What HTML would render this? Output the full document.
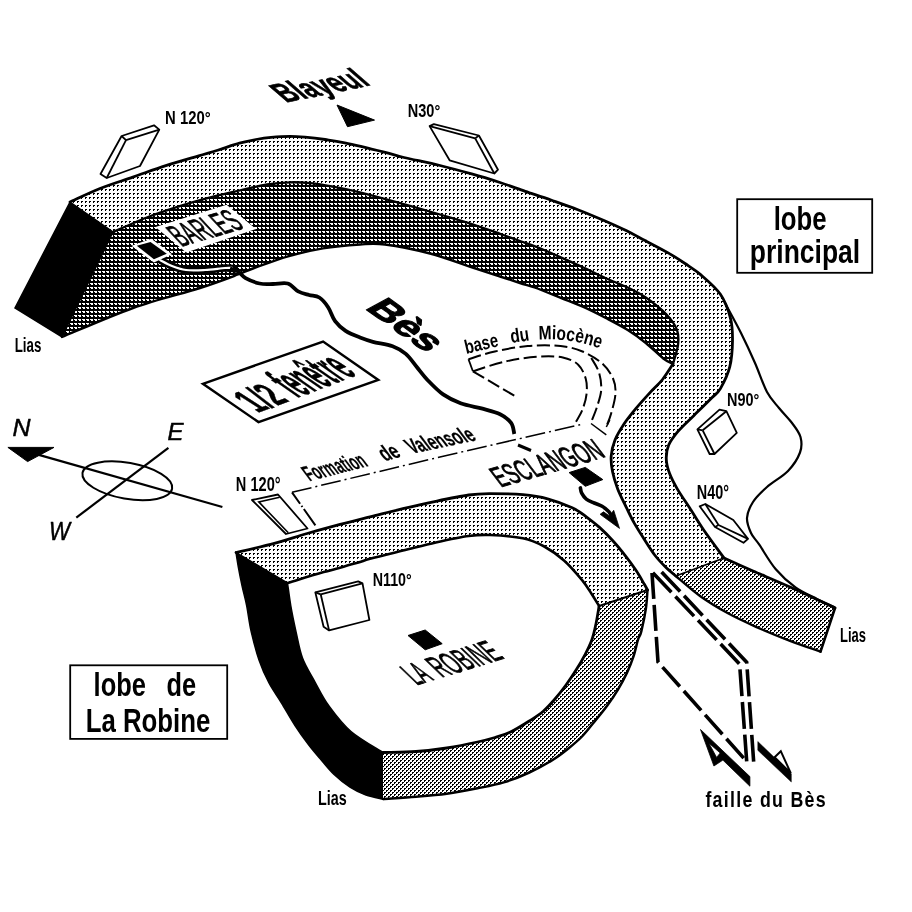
<!DOCTYPE html>
<html><head><meta charset="utf-8"><title>Bloc diagramme</title>
<style>
html,body{margin:0;padding:0;background:#fff;}
body{width:912px;height:912px;overflow:hidden;font-family:"Liberation Sans",sans-serif;}
svg{display:block;will-change:transform;}
text{font-family:"Liberation Sans",sans-serif;fill:#000;white-space:pre;}
</style></head><body>
<svg width="912" height="912" viewBox="0 0 912 912">
<defs>
<pattern id="pl" width="4" height="4" patternUnits="userSpaceOnUse"><rect width="4" height="4" fill="#fff"/><path d="M1,1h2v1h-1v1h-1z" fill="#000"/></pattern>
<pattern id="pd" width="4" height="4" patternUnits="userSpaceOnUse"><rect width="4" height="4" fill="#000"/><path d="M2,3h2v1h-2zM0,3h1v1h-1zM3,0h1v1h-1zM0,0h1v1h-1z" fill="#fff"/></pattern>
<pattern id="ph" width="4" height="4" patternUnits="userSpaceOnUse"><rect width="4" height="4" fill="#fff"/><path d="M0,0h2v1h-1v1h-1zM2,2h2v1h-1v1h-1z" fill="#000"/></pattern>
</defs>
<rect width="912" height="912" fill="#fff"/>
<path d="M70.0,202.0 C75.0,199.8 89.5,192.7 100.0,188.5 C110.5,184.3 121.9,180.9 132.9,177.1 C143.9,173.3 154.8,169.1 165.8,165.6 C176.8,162.1 189.9,158.4 198.7,155.8 C207.5,153.2 211.6,152.1 218.4,150.0 C225.2,147.9 233.2,144.9 239.5,143.2 C245.8,141.4 250.8,140.5 256.0,139.5 C261.2,138.5 265.3,137.8 271.0,137.3 C276.7,136.8 284.3,136.3 290.0,136.3 C295.7,136.3 299.2,136.6 305.0,137.1 C310.8,137.6 318.4,138.5 325.0,139.5 C331.6,140.5 334.8,140.8 344.7,142.9 C354.6,145.0 374.3,149.7 384.2,152.1 C394.1,154.5 394.7,155.3 404.0,157.5 C413.3,159.7 428.6,162.7 440.0,165.5 C451.4,168.3 462.6,171.4 472.6,174.2 C482.6,177.0 491.2,179.7 500.0,182.5 C508.8,185.3 516.8,188.4 525.3,191.3 C533.8,194.2 542.2,196.9 551.0,200.0 C559.8,203.1 569.1,206.3 577.9,209.7 C586.7,213.1 596.3,217.2 604.0,220.5 C611.7,223.8 617.1,226.3 623.9,229.6 C630.7,232.9 637.7,236.7 645.0,240.5 C652.3,244.3 661.0,248.8 667.7,252.6 C674.4,256.4 679.5,259.8 685.0,263.5 C690.5,267.2 694.7,269.5 700.6,274.6 C706.5,279.7 715.4,287.0 720.4,294.3 C725.4,301.6 728.5,310.7 730.5,318.4 C732.5,326.1 732.6,332.3 732.5,340.4 C732.4,348.4 731.8,358.7 729.8,366.7 C727.8,374.7 723.4,383.4 720.4,388.6 C717.4,393.8 716.0,393.5 711.6,398.0 C707.2,402.5 699.6,409.9 694.0,415.4 C688.4,420.9 682.4,426.2 678.2,431.2 C674.0,436.2 670.6,440.6 668.6,445.3 C666.6,450.0 666.1,454.6 666.3,459.3 C666.4,464.0 667.6,468.3 669.5,473.3 C671.4,478.3 674.0,483.3 677.4,489.1 C680.8,494.9 685.5,501.5 689.9,508.3 C694.3,515.1 698.0,521.7 703.7,530.0 C709.4,538.3 720.6,553.3 724.0,558.0 L675.8,576.0 C674.0,574.5 668.8,570.3 665.3,566.8 C661.8,563.3 658.2,559.6 654.7,555.0 C651.2,550.4 647.7,544.7 644.2,539.2 C640.7,533.7 636.8,527.6 633.7,522.1 C630.6,516.6 628.5,511.8 625.8,506.3 C623.1,500.8 619.9,494.8 617.7,489.0 C615.5,483.2 613.6,477.1 612.5,471.6 C611.4,466.1 610.8,461.3 611.2,456.0 C611.6,450.7 612.9,445.3 615.0,440.0 C617.1,434.7 620.5,429.3 624.0,424.0 C627.5,418.7 631.7,413.6 636.0,408.4 C640.3,403.2 645.6,397.4 650.0,392.6 C654.4,387.8 658.7,384.3 662.5,379.5 C666.3,374.7 671.2,366.6 673.0,364.0 L673.0,364.0 C673.8,360.8 677.3,350.7 678.0,345.0 C678.7,339.3 678.9,335.1 677.0,330.0 C675.1,324.9 671.7,319.9 666.5,314.5 C661.3,309.1 652.3,302.0 645.8,297.5 C639.3,293.0 634.4,290.7 627.7,287.5 C621.0,284.3 613.1,281.5 605.8,278.2 C598.5,274.9 591.2,271.2 583.9,267.8 C576.6,264.4 569.2,261.1 561.9,257.9 C554.6,254.6 547.0,251.1 540.0,248.3 C533.0,245.5 526.7,243.4 520.0,241.0 C513.3,238.6 507.9,236.6 500.0,233.8 C492.1,231.0 482.6,227.5 472.6,224.3 C462.6,221.1 452.5,218.2 440.0,214.5 C427.5,210.8 411.1,206.1 397.4,202.3 C383.7,198.5 368.3,194.4 357.9,191.8 C347.5,189.2 342.9,188.4 335.0,187.0 C327.1,185.6 318.0,184.0 310.5,183.2 C303.0,182.4 297.2,182.1 290.0,182.3 C282.8,182.5 275.4,183.1 267.0,184.5 C258.6,185.9 248.2,188.6 239.5,190.5 C230.8,192.4 224.7,193.6 215.1,196.1 C205.5,198.6 193.2,201.9 182.2,205.3 C171.2,208.7 160.8,212.1 149.3,216.5 C137.8,220.9 119.0,229.4 113.0,232.0 L70.0,202.0 Z" fill="url(#pl)" stroke="none" stroke-width="2" />
<path d="M113.0,232.0 C119.0,229.4 137.8,220.9 149.3,216.5 C160.8,212.1 171.2,208.7 182.2,205.3 C193.2,201.9 205.5,198.6 215.1,196.1 C224.7,193.6 230.8,192.4 239.5,190.5 C248.2,188.6 258.6,185.9 267.0,184.5 C275.4,183.1 282.8,182.5 290.0,182.3 C297.2,182.1 303.0,182.4 310.5,183.2 C318.0,184.0 327.1,185.6 335.0,187.0 C342.9,188.4 347.5,189.2 357.9,191.8 C368.3,194.4 383.7,198.5 397.4,202.3 C411.1,206.1 427.5,210.8 440.0,214.5 C452.5,218.2 462.6,221.1 472.6,224.3 C482.6,227.5 492.1,231.0 500.0,233.8 C507.9,236.6 513.3,238.6 520.0,241.0 C526.7,243.4 533.0,245.5 540.0,248.3 C547.0,251.1 554.6,254.6 561.9,257.9 C569.2,261.1 576.6,264.4 583.9,267.8 C591.2,271.2 598.5,274.9 605.8,278.2 C613.1,281.5 621.0,284.3 627.7,287.5 C634.4,290.7 639.3,293.0 645.8,297.5 C652.3,302.0 661.3,309.1 666.5,314.5 C671.7,319.9 675.1,324.9 677.0,330.0 C678.9,335.1 678.7,339.3 678.0,345.0 C677.3,350.7 673.8,360.8 673.0,364.0 L673.0,364.0 C671.4,363.1 667.8,362.0 663.3,358.5 C658.8,355.0 651.7,347.8 645.8,343.0 C639.9,338.2 634.4,334.2 627.7,330.0 C621.0,325.8 613.1,321.8 605.8,318.0 C598.5,314.2 591.2,310.5 583.9,307.2 C576.6,303.9 569.2,301.2 561.9,298.3 C554.6,295.4 547.0,292.1 540.0,289.5 C533.0,286.9 526.7,285.2 520.0,283.0 C513.3,280.8 507.9,279.1 500.0,276.5 C492.1,273.9 484.3,271.3 472.6,267.5 C460.9,263.7 444.6,257.3 430.0,253.5 C415.4,249.7 396.7,246.0 385.0,244.5 C373.3,243.0 370.3,243.8 360.0,244.5 C349.7,245.2 335.0,246.4 323.0,248.4 C311.0,250.4 299.7,253.0 288.0,256.3 C276.3,259.7 261.3,265.5 253.0,268.5 C244.7,271.5 246.8,271.2 238.0,274.5 C229.2,277.8 217.5,282.4 200.0,288.0 C182.5,293.6 156.0,299.8 133.0,308.0 C110.0,316.2 73.8,332.2 62.0,337.0 L113.0,232.0 Z" fill="url(#pd)" stroke="none" stroke-width="2" />
<path d="M70.0,202.0 L113.0,232.0 L62.0,337.0 L15.0,308.0 Z" fill="#000" stroke="#000" stroke-width="1.5" />
<path d="M724.0,558.0 C728.8,560.2 742.0,566.2 753.0,571.0 C764.0,575.8 776.3,580.8 790.0,587.0 C803.7,593.2 827.5,604.5 835.0,608.0 L820.5,651.6 L820.5,651.6 C815.4,649.8 800.8,644.9 790.0,640.8 C779.2,636.7 766.3,631.4 756.0,626.8 C745.7,622.2 737.3,618.4 728.0,613.3 C718.7,608.2 708.7,602.2 700.0,596.0 C691.3,589.8 679.8,579.3 675.8,576.0 Z" fill="url(#ph)" stroke="none" stroke-width="2" />
<path d="M70.0,202.0 C75.0,199.8 89.5,192.7 100.0,188.5 C110.5,184.3 121.9,180.9 132.9,177.1 C143.9,173.3 154.8,169.1 165.8,165.6 C176.8,162.1 189.9,158.4 198.7,155.8 C207.5,153.2 211.6,152.1 218.4,150.0 C225.2,147.9 233.2,144.9 239.5,143.2 C245.8,141.4 250.8,140.5 256.0,139.5 C261.2,138.5 265.3,137.8 271.0,137.3 C276.7,136.8 284.3,136.3 290.0,136.3 C295.7,136.3 299.2,136.6 305.0,137.1 C310.8,137.6 318.4,138.5 325.0,139.5 C331.6,140.5 334.8,140.8 344.7,142.9 C354.6,145.0 374.3,149.7 384.2,152.1 C394.1,154.5 394.7,155.3 404.0,157.5 C413.3,159.7 428.6,162.7 440.0,165.5 C451.4,168.3 462.6,171.4 472.6,174.2 C482.6,177.0 491.2,179.7 500.0,182.5 C508.8,185.3 516.8,188.4 525.3,191.3 C533.8,194.2 542.2,196.9 551.0,200.0 C559.8,203.1 569.1,206.3 577.9,209.7 C586.7,213.1 596.3,217.2 604.0,220.5 C611.7,223.8 617.1,226.3 623.9,229.6 C630.7,232.9 637.7,236.7 645.0,240.5 C652.3,244.3 661.0,248.8 667.7,252.6 C674.4,256.4 679.5,259.8 685.0,263.5 C690.5,267.2 694.7,269.5 700.6,274.6 C706.5,279.7 715.4,287.0 720.4,294.3 C725.4,301.6 728.5,310.7 730.5,318.4 C732.5,326.1 732.6,332.3 732.5,340.4 C732.4,348.4 731.8,358.7 729.8,366.7 C727.8,374.7 723.4,383.4 720.4,388.6 C717.4,393.8 716.0,393.5 711.6,398.0 C707.2,402.5 699.6,409.9 694.0,415.4 C688.4,420.9 682.4,426.2 678.2,431.2 C674.0,436.2 670.6,440.6 668.6,445.3 C666.6,450.0 666.1,454.6 666.3,459.3 C666.4,464.0 667.6,468.3 669.5,473.3 C671.4,478.3 674.0,483.3 677.4,489.1 C680.8,494.9 685.5,501.5 689.9,508.3 C694.3,515.1 698.0,521.7 703.7,530.0 C709.4,538.3 720.6,553.3 724.0,558.0" fill="none" stroke="#000" stroke-width="2.8" stroke-linejoin="round" stroke-linecap="round"/>
<path d="M113.0,232.0 C119.0,229.4 137.8,220.9 149.3,216.5 C160.8,212.1 171.2,208.7 182.2,205.3 C193.2,201.9 205.5,198.6 215.1,196.1 C224.7,193.6 230.8,192.4 239.5,190.5 C248.2,188.6 258.6,185.9 267.0,184.5 C275.4,183.1 282.8,182.5 290.0,182.3 C297.2,182.1 303.0,182.4 310.5,183.2 C318.0,184.0 327.1,185.6 335.0,187.0 C342.9,188.4 347.5,189.2 357.9,191.8 C368.3,194.4 383.7,198.5 397.4,202.3 C411.1,206.1 427.5,210.8 440.0,214.5 C452.5,218.2 462.6,221.1 472.6,224.3 C482.6,227.5 492.1,231.0 500.0,233.8 C507.9,236.6 513.3,238.6 520.0,241.0 C526.7,243.4 533.0,245.5 540.0,248.3 C547.0,251.1 554.6,254.6 561.9,257.9 C569.2,261.1 576.6,264.4 583.9,267.8 C591.2,271.2 598.5,274.9 605.8,278.2 C613.1,281.5 621.0,284.3 627.7,287.5 C634.4,290.7 639.3,293.0 645.8,297.5 C652.3,302.0 661.3,309.1 666.5,314.5 C671.7,319.9 675.1,324.9 677.0,330.0 C678.9,335.1 678.7,339.3 678.0,345.0 C677.3,350.7 673.8,360.8 673.0,364.0" fill="none" stroke="#000" stroke-width="2.3" stroke-linejoin="round" stroke-linecap="round"/>
<path d="M673.0,364.0 C671.2,366.6 666.3,374.7 662.5,379.5 C658.7,384.3 654.4,387.8 650.0,392.6 C645.6,397.4 640.3,403.2 636.0,408.4 C631.7,413.6 627.5,418.7 624.0,424.0 C620.5,429.3 617.1,434.7 615.0,440.0 C612.9,445.3 611.6,450.7 611.2,456.0 C610.8,461.3 611.4,466.1 612.5,471.6 C613.6,477.1 615.5,483.2 617.7,489.0 C619.9,494.8 623.1,500.8 625.8,506.3 C628.5,511.8 630.6,516.6 633.7,522.1 C636.8,527.6 640.7,533.7 644.2,539.2 C647.7,544.7 651.2,550.4 654.7,555.0 C658.2,559.6 661.8,563.3 665.3,566.8 C668.8,570.3 674.0,574.5 675.8,576.0" fill="none" stroke="#000" stroke-width="2.8" stroke-linejoin="round" stroke-linecap="round"/>
<path d="M62.0,337.0 C73.8,332.2 110.0,316.2 133.0,308.0 C156.0,299.8 182.5,293.6 200.0,288.0 C217.5,282.4 229.2,277.8 238.0,274.5 C246.8,271.2 244.7,271.5 253.0,268.5 C261.3,265.5 276.3,259.7 288.0,256.3 C299.7,253.0 311.0,250.4 323.0,248.4 C335.0,246.4 349.7,245.2 360.0,244.5 C370.3,243.8 373.3,243.0 385.0,244.5 C396.7,246.0 415.4,249.7 430.0,253.5 C444.6,257.3 460.9,263.7 472.6,267.5 C484.3,271.3 492.1,273.9 500.0,276.5 C507.9,279.1 513.3,280.8 520.0,283.0 C526.7,285.2 533.0,286.9 540.0,289.5 C547.0,292.1 554.6,295.4 561.9,298.3 C569.2,301.2 576.6,303.9 583.9,307.2 C591.2,310.5 598.5,314.2 605.8,318.0 C613.1,321.8 621.0,325.8 627.7,330.0 C634.4,334.2 639.9,338.2 645.8,343.0 C651.7,347.8 658.8,355.0 663.3,358.5 C667.8,362.0 671.4,363.1 673.0,364.0" fill="none" stroke="#000" stroke-width="2.4" stroke-linejoin="round" stroke-linecap="round"/>
<path d="M724.0,558.0 L675.8,576.0" fill="none" stroke="#000" stroke-width="1.8" stroke-linejoin="round" stroke-linecap="round"/>
<path d="M724.0,558.0 C728.8,560.2 742.0,566.2 753.0,571.0 C764.0,575.8 776.3,580.8 790.0,587.0 C803.7,593.2 827.5,604.5 835.0,608.0" fill="none" stroke="#000" stroke-width="2.8" stroke-linejoin="round" stroke-linecap="round"/>
<path d="M675.8,576.0 C679.8,579.3 691.3,589.8 700.0,596.0 C708.7,602.2 718.7,608.2 728.0,613.3 C737.3,618.4 745.7,622.2 756.0,626.8 C766.3,631.4 779.2,636.7 790.0,640.8 C800.8,644.9 815.4,649.8 820.5,651.6" fill="none" stroke="#000" stroke-width="2.4" stroke-linejoin="round" stroke-linecap="round"/>
<path d="M835.0,608.0 L820.5,651.6" fill="none" stroke="#000" stroke-width="2.6" stroke-linejoin="round" stroke-linecap="round"/>
<path d="M724.5,302.0 C727.2,307.2 735.9,322.8 741.0,333.0 C746.1,343.2 750.7,353.2 755.0,363.0 C759.3,372.8 763.0,384.5 767.0,392.0 C771.0,399.5 774.8,402.8 779.0,408.0 C783.2,413.2 788.4,418.2 792.0,423.0 C795.6,427.8 799.2,432.1 800.5,437.0 C801.8,441.9 802.1,446.8 800.0,452.5 C797.9,458.2 793.5,465.2 788.0,471.0 C782.5,476.8 772.8,481.8 767.0,487.0 C761.2,492.2 756.3,496.8 753.0,502.0 C749.7,507.2 747.3,512.8 747.0,518.0 C746.7,523.2 749.0,528.5 751.0,533.0 C753.0,537.5 755.2,538.7 759.3,544.7 C763.4,550.8 769.8,562.2 775.8,569.3 C781.8,576.4 788.6,582.5 795.5,587.4 C802.4,592.3 810.3,595.6 816.9,598.9 C823.5,602.2 832.0,605.8 835.0,607.2" fill="none" stroke="#000" stroke-width="2.2" />
<path d="M236.0,552.5 C242.4,551.0 262.4,546.5 274.3,543.3 C286.2,540.1 296.2,536.6 307.2,533.5 C318.2,530.4 329.6,527.2 340.1,524.4 C350.6,521.6 359.5,519.5 370.0,516.9 C380.5,514.3 391.9,511.3 402.9,508.7 C413.9,506.1 424.8,503.6 435.8,501.3 C446.8,499.0 459.7,496.3 468.7,495.0 C477.7,493.7 481.0,493.7 490.0,493.6 C499.0,493.6 513.3,493.8 522.9,494.7 C532.5,495.6 539.4,496.6 547.6,498.8 C555.8,501.0 565.8,504.8 572.2,507.8 C578.7,510.8 581.8,513.5 586.3,516.8 C590.8,520.1 595.1,523.4 599.5,527.4 C603.9,531.4 608.2,535.7 612.6,540.5 C617.0,545.3 621.8,551.2 625.8,556.3 C629.8,561.3 633.2,566.2 636.3,570.8 C639.4,575.4 642.3,580.8 644.2,584.0 C646.1,587.2 647.0,589.0 647.5,590.0 L599.1,606.0 L599.1,606.0 C597.9,604.1 594.8,598.8 592.0,594.5 C589.2,590.2 586.8,585.9 582.1,580.2 C577.4,574.5 570.3,566.1 564.0,560.5 C557.7,554.9 551.1,550.2 544.3,546.5 C537.4,542.8 531.9,540.2 522.9,538.3 C513.9,536.4 499.0,535.4 490.0,535.0 C481.0,534.6 477.7,534.8 468.7,536.0 C459.7,537.2 446.8,540.0 435.8,542.4 C424.8,544.8 413.9,547.9 402.9,550.6 C391.9,553.3 377.7,556.7 370.0,558.8 C362.3,560.9 364.3,560.9 356.6,563.1 C348.9,565.3 335.2,568.8 323.7,572.1 C312.2,575.4 293.5,581.2 287.5,583.0 L236.0,552.5 Z" fill="url(#pl)" stroke="none" stroke-width="2" />
<path d="M236.0,552.5 C236.4,554.8 237.2,560.7 238.2,566.3 C239.2,571.9 240.7,579.5 242.1,586.1 C243.5,592.7 245.2,598.1 246.7,605.8 C248.2,613.5 249.2,623.1 251.3,632.1 C253.4,641.1 256.1,651.5 259.0,660.0 C261.9,668.5 265.2,675.8 269.0,683.0 C272.8,690.2 277.4,696.2 281.7,703.3 C286.0,710.4 290.5,718.5 295.0,725.5 C299.5,732.5 304.6,739.5 308.8,745.0 C313.0,750.5 315.8,753.6 320.0,758.5 C324.2,763.4 328.8,769.5 333.8,774.2 C338.8,779.0 344.6,783.5 350.0,787.0 C355.4,790.5 360.5,793.0 366.0,795.0 C371.5,797.0 380.2,798.5 383.0,799.2 L383.0,752.5 L383.0,752.5 C377.7,749.0 360.0,739.2 351.0,731.5 C342.0,723.8 335.0,714.2 329.0,706.0 C323.0,697.8 319.4,690.0 315.0,682.0 C310.6,674.0 305.6,666.3 302.5,658.0 C299.4,649.7 298.1,640.8 296.1,632.1 C294.2,623.4 292.2,614.0 290.8,605.8 C289.4,597.6 288.1,586.8 287.5,583.0 L236.0,552.5 Z" fill="#000" stroke="#000" stroke-width="1.5" />
<path d="M647.5,590.0 C647.2,593.1 646.9,601.5 645.9,608.4 C644.9,615.3 642.6,626.1 641.3,631.4 C640.0,636.7 639.2,635.8 637.9,640.0 C636.6,644.2 635.3,650.9 633.5,656.4 C631.7,661.9 629.5,667.4 626.9,672.9 C624.3,678.4 621.4,683.8 618.1,689.3 C614.8,694.8 611.1,700.3 607.1,705.8 C603.1,711.3 598.2,717.1 594.0,722.2 C589.8,727.3 586.2,732.2 582.0,736.5 C577.8,740.8 573.8,744.1 569.0,748.0 C564.2,751.9 559.6,755.6 553.0,759.7 C546.4,763.8 537.5,768.7 529.3,772.5 C521.1,776.3 512.3,779.8 503.7,782.4 C495.1,785.0 487.0,786.4 477.5,788.3 C468.0,790.2 457.1,792.3 446.8,793.7 C436.6,795.1 426.6,795.9 416.0,796.8 C405.4,797.7 388.5,798.6 383.0,799.0 L383.0,752.5 C388.5,752.3 405.4,752.2 416.0,751.5 C426.6,750.8 436.6,749.6 446.8,748.0 C457.1,746.4 469.5,743.8 477.5,742.0 C485.5,740.2 489.6,739.1 495.0,737.5 C500.4,735.9 504.3,735.0 510.0,732.3 C515.7,729.5 523.8,724.5 529.3,721.0 C534.8,717.5 538.7,715.2 543.0,711.5 C547.3,707.8 551.2,703.4 555.0,699.0 C558.8,694.6 562.4,689.9 566.0,685.0 C569.6,680.1 573.2,674.7 576.4,669.6 C579.6,664.5 582.6,659.2 585.2,654.3 C587.8,649.4 590.0,645.1 591.8,640.0 C593.6,634.9 594.8,629.4 596.0,623.7 C597.2,618.0 598.6,609.0 599.1,606.0 Z" fill="url(#ph)" stroke="none" stroke-width="2" />
<path d="M236.0,552.5 C242.4,551.0 262.4,546.5 274.3,543.3 C286.2,540.1 296.2,536.6 307.2,533.5 C318.2,530.4 329.6,527.2 340.1,524.4 C350.6,521.6 359.5,519.5 370.0,516.9 C380.5,514.3 391.9,511.3 402.9,508.7 C413.9,506.1 424.8,503.6 435.8,501.3 C446.8,499.0 459.7,496.3 468.7,495.0 C477.7,493.7 481.0,493.7 490.0,493.6 C499.0,493.6 513.3,493.8 522.9,494.7 C532.5,495.6 539.4,496.6 547.6,498.8 C555.8,501.0 565.8,504.8 572.2,507.8 C578.7,510.8 581.8,513.5 586.3,516.8 C590.8,520.1 595.1,523.4 599.5,527.4 C603.9,531.4 608.2,535.7 612.6,540.5 C617.0,545.3 621.8,551.2 625.8,556.3 C629.8,561.3 633.2,566.2 636.3,570.8 C639.4,575.4 642.3,580.8 644.2,584.0 C646.1,587.2 647.0,589.0 647.5,590.0" fill="none" stroke="#000" stroke-width="2.8" stroke-linejoin="round" stroke-linecap="round"/>
<path d="M287.5,583.0 C293.5,581.2 312.2,575.4 323.7,572.1 C335.2,568.8 348.9,565.3 356.6,563.1 C364.3,560.9 362.3,560.9 370.0,558.8 C377.7,556.7 391.9,553.3 402.9,550.6 C413.9,547.9 424.8,544.8 435.8,542.4 C446.8,540.0 459.7,537.2 468.7,536.0 C477.7,534.8 481.0,534.6 490.0,535.0 C499.0,535.4 513.9,536.4 522.9,538.3 C531.9,540.2 537.4,542.8 544.3,546.5 C551.1,550.2 557.7,554.9 564.0,560.5 C570.3,566.1 577.4,574.5 582.1,580.2 C586.8,585.9 589.2,590.2 592.0,594.5 C594.8,598.8 597.9,604.1 599.1,606.0" fill="none" stroke="#000" stroke-width="2.6" stroke-linejoin="round" stroke-linecap="round"/>
<path d="M647.5,590.0 L599.1,606.0" fill="none" stroke="#000" stroke-width="2.0" stroke-linejoin="round" stroke-linecap="round"/>
<path d="M647.5,590.0 C647.2,593.1 646.9,601.5 645.9,608.4 C644.9,615.3 642.6,626.1 641.3,631.4 C640.0,636.7 639.2,635.8 637.9,640.0 C636.6,644.2 635.3,650.9 633.5,656.4 C631.7,661.9 629.5,667.4 626.9,672.9 C624.3,678.4 621.4,683.8 618.1,689.3 C614.8,694.8 611.1,700.3 607.1,705.8 C603.1,711.3 598.2,717.1 594.0,722.2 C589.8,727.3 586.2,732.2 582.0,736.5 C577.8,740.8 573.8,744.1 569.0,748.0 C564.2,751.9 559.6,755.6 553.0,759.7 C546.4,763.8 537.5,768.7 529.3,772.5 C521.1,776.3 512.3,779.8 503.7,782.4 C495.1,785.0 487.0,786.4 477.5,788.3 C468.0,790.2 457.1,792.3 446.8,793.7 C436.6,795.1 426.6,795.9 416.0,796.8 C405.4,797.7 388.5,798.6 383.0,799.0" fill="none" stroke="#000" stroke-width="2.5" stroke-linejoin="round" stroke-linecap="round"/>
<path d="M599.1,606.0 C598.6,609.0 597.2,618.0 596.0,623.7 C594.8,629.4 593.6,634.9 591.8,640.0 C590.0,645.1 587.8,649.4 585.2,654.3 C582.6,659.2 579.6,664.5 576.4,669.6 C573.2,674.7 569.6,680.1 566.0,685.0 C562.4,689.9 558.8,694.6 555.0,699.0 C551.2,703.4 547.3,707.8 543.0,711.5 C538.7,715.2 534.8,717.5 529.3,721.0 C523.8,724.5 515.7,729.5 510.0,732.3 C504.3,735.0 500.4,735.9 495.0,737.5 C489.6,739.1 485.5,740.2 477.5,742.0 C469.5,743.8 457.1,746.4 446.8,748.0 C436.6,749.6 426.6,750.8 416.0,751.5 C405.4,752.2 388.5,752.3 383.0,752.5" fill="none" stroke="#000" stroke-width="2.8" stroke-linejoin="round" stroke-linecap="round"/>
<path d="M160.0,260.0 C162.0,261.0 167.7,264.3 172.0,266.0 C176.3,267.7 180.5,269.3 186.0,270.0 C191.5,270.7 198.5,270.3 205.0,270.0 C211.5,269.7 219.7,268.2 225.0,268.0 C230.3,267.8 235.0,268.8 237.0,269.0" fill="none" stroke="#000" stroke-width="7.5" stroke-linecap="butt"/>
<path d="M160.0,260.0 C162.0,261.0 167.7,264.3 172.0,266.0 C176.3,267.7 180.5,269.3 186.0,270.0 C191.5,270.7 198.5,270.3 205.0,270.0 C211.5,269.7 220.3,268.3 225.0,268.0 C229.7,267.7 231.7,268.0 233.0,268.0" fill="none" stroke="#fff" stroke-width="2.2" />
<path d="M230.0,268.5 C231.3,268.9 235.1,269.6 237.7,271.2 C240.3,272.8 241.9,276.1 245.6,278.2 C249.2,280.2 255.0,282.5 259.6,283.5 C264.2,284.5 268.3,284.0 273.0,284.0 C277.7,284.0 283.5,282.3 287.7,283.5 C291.9,284.7 294.6,289.5 298.2,291.4 C301.8,293.3 305.5,294.0 309.0,295.0 C312.5,296.0 316.1,295.5 319.3,297.5 C322.5,299.5 325.5,303.2 328.1,307.2 C330.7,311.1 332.2,317.2 335.1,321.2 C338.0,325.1 341.5,328.2 345.6,330.9 C349.8,333.6 355.4,335.7 360.0,337.5 C364.6,339.3 367.5,340.4 372.9,341.8 C378.3,343.2 387.1,344.2 392.6,346.2 C398.1,348.2 401.8,350.4 405.8,353.9 C409.8,357.4 413.2,362.6 416.8,367.0 C420.4,371.4 423.3,375.6 427.7,380.2 C432.1,384.8 437.6,390.6 443.1,394.4 C448.6,398.2 454.0,400.8 460.6,403.2 C467.2,405.6 475.9,406.9 482.5,408.7 C489.1,410.5 495.3,411.8 500.1,414.2 C504.9,416.6 508.7,419.6 511.1,422.9 C513.5,426.2 513.8,432.1 514.3,433.9" fill="none" stroke="#000" stroke-width="3.8" stroke-linecap="butt"/>
<path d="M518.0,445.0 L531.0,450.5" fill="none" stroke="#000" stroke-width="3" />
<path d="M155.4,227.1 L226.6,204.8 L256.1,229.0 L186.2,252.5 Z" fill="#fff" stroke="none" stroke-width="2" />
<text transform="matrix(0.9586,-0.2846,0.6820,0.7313,181.50,246.80)" font-size="36.86" font-weight="normal" font-style="normal" textLength="66.8" lengthAdjust="spacingAndGlyphs" stroke="#000" stroke-width="0.90" stroke-linejoin="round">BARLES</text>
<path d="M131.5,245.8 L151.3,238.8 L172.0,254.2 L153.9,262.6 Z" fill="#fff" stroke="none" stroke-width="2" />
<path d="M136.8,245.8 L150.5,242.0 L166.8,253.7 L153.9,259.2 Z" fill="#000" stroke="none" stroke-width="2" />
<text transform="matrix(0.9797,-0.2005,0.7582,0.6520,286.00,102.60)" font-size="36.84" font-weight="bold" font-style="normal" textLength="87.8" lengthAdjust="spacingAndGlyphs" stroke="#000" stroke-width="0.80" stroke-linejoin="round">Blayeul</text>
<path d="M337.0,105.0 L374.5,120.1 L347.5,126.7 Z" fill="#000" stroke="#000" stroke-width="1" />
<path d="M202.9,383.8 L323.1,341.5 L378.3,380.0 L258.5,422.1 Z" fill="none" stroke="#000" stroke-width="2.4" />
<text transform="matrix(0.9380,-0.3468,0.8417,0.5399,257.50,413.00)" font-size="48.12" font-weight="bold" font-style="normal" textLength="35.2" lengthAdjust="spacingAndGlyphs" stroke="#000" stroke-width="0.50" stroke-linejoin="round">1/2</text>
<text transform="matrix(0.9337,-0.3581,0.8201,0.5722,296.50,398.30)" font-size="59.21" font-weight="bold" font-style="normal" textLength="66.2" lengthAdjust="spacingAndGlyphs" stroke="#000" stroke-width="0.60" stroke-linejoin="round">fenêtre</text>
<text transform="matrix(0.8108,0.5853,-0.8786,0.4775,364.30,308.30)" font-size="36.56" font-weight="bold" font-style="normal" textLength="76.7" lengthAdjust="spacingAndGlyphs" stroke="#000" stroke-width="1.20" stroke-linejoin="round">Bès</text>
<text transform="matrix(0.9679,-0.2513,0.6000,0.8000,309.60,481.30)" font-size="24.44" font-weight="bold" font-style="normal" textLength="61.7" lengthAdjust="spacingAndGlyphs" stroke="#000" stroke-width="0.30" stroke-linejoin="round">Formation</text>
<text transform="matrix(0.9636,-0.2674,0.6000,0.8000,385.00,461.20)" font-size="24.44" font-weight="bold" font-style="normal" textLength="18.0" lengthAdjust="spacingAndGlyphs" stroke="#000" stroke-width="0.20" stroke-linejoin="round">de</text>
<text transform="matrix(0.9785,-0.2065,0.6000,0.8000,412.20,453.80)" font-size="24.44" font-weight="bold" font-style="normal" textLength="66.8" lengthAdjust="spacingAndGlyphs" stroke="#000" stroke-width="0.30" stroke-linejoin="round">Valensole</text>
<path d="M292.0,492.3 L440.0,457.0 L583.6,423.9" fill="none" stroke="#000" stroke-width="1.5" stroke-dasharray="20 4 2 4"/>
<path d="M292.0,492.3 L315.4,525.4" fill="none" stroke="#000" stroke-width="2.0" stroke-dasharray="14 2.5 1.5 2.5 20"/>
<path d="M591.0,423.5 L606.3,434.9" fill="none" stroke="#000" stroke-width="1.5" />
<path d="M606.3,427.0 L609.8,420.0" fill="none" stroke="#000" stroke-width="1.5" />
<text transform="matrix(0.9738,-0.2272,0.2272,0.9738,466.20,353.90)" font-size="19.62" font-weight="bold" font-style="normal" textLength="33.9" lengthAdjust="spacingAndGlyphs">base</text>
<text transform="matrix(0.9896,-0.1437,0.1437,0.9896,511.30,343.00)" font-size="19.62" font-weight="bold" font-style="normal" textLength="18.8" lengthAdjust="spacingAndGlyphs">du</text>
<path id="mio" d="M538.7,339.7 Q570,337.5 600,348.6" fill="none"/>
<text font-size="19.6" font-weight="bold"><textPath href="#mio" textLength="62.5" lengthAdjust="spacingAndGlyphs">Miocène</textPath></text>
<path d="M468.5,359.2 C472.9,357.9 484.9,353.7 494.8,351.5 C504.7,349.3 516.7,346.9 527.7,346.0 C538.7,345.1 551.5,345.1 560.6,346.0 C569.7,346.9 575.5,348.6 582.5,351.5 C589.5,354.4 597.2,359.0 602.3,363.6 C607.4,368.2 611.0,373.9 613.2,379.0 C615.4,384.1 615.8,388.5 615.4,394.3 C615.0,400.1 612.6,408.3 611.0,414.0 C609.4,419.7 606.5,425.9 605.6,428.3" fill="none" stroke="#000" stroke-width="2.0" stroke-dasharray="13 4.5"/>
<path d="M591.3,358.0 C592.6,360.4 597.4,367.1 599.0,372.4 C600.6,377.7 601.6,384.1 601.2,390.0 C600.8,395.9 598.4,402.2 596.8,407.5 C595.1,412.8 592.2,419.3 591.3,421.7" fill="none" stroke="#000" stroke-width="2.0" stroke-dasharray="13 4.5"/>
<path d="M472.9,371.3 C478.4,369.6 494.8,363.8 505.8,361.4 C516.8,358.9 529.2,357.2 538.7,356.6 C548.2,356.0 556.2,356.1 562.8,357.5 C569.4,358.9 574.4,361.1 578.2,364.7 C582.0,368.3 584.4,374.1 585.8,379.0 C587.2,383.9 587.0,389.2 586.5,394.3 C586.0,399.4 584.2,405.0 582.5,409.6 C580.8,414.2 577.1,419.7 576.0,421.7" fill="none" stroke="#000" stroke-width="2.0" stroke-dasharray="13 4.5"/>
<path d="M468.5,359.2 L472.9,371.3" fill="none" stroke="#000" stroke-width="1.8" />
<path d="M472.9,371.3 L515.7,396.5" fill="none" stroke="#000" stroke-width="2.0" stroke-dasharray="13 4.5"/>
<text transform="matrix(0.9608,-0.2774,0.6055,0.7958,500.80,487.20)" font-size="32.29" font-weight="normal" font-style="normal" textLength="110.3" lengthAdjust="spacingAndGlyphs" stroke="#000" stroke-width="1.00" stroke-linejoin="round">ESCLANGON</text>
<path d="M569.1,472.6 L585.3,467.4 L602.8,479.6 L585.3,486.3 Z" fill="#000" stroke="#000" stroke-width="1" />
<path d="M580.4,487.9 C580.6,488.8 580.7,491.3 581.7,493.2 C582.7,495.1 584.2,497.5 586.3,499.1 C588.4,500.7 591.6,501.8 594.2,503.0 C596.8,504.2 599.7,504.9 602.1,506.3 C604.5,507.7 607.1,509.8 608.7,511.6 C610.4,513.4 611.5,516.1 612.0,517.0" fill="none" stroke="#000" stroke-width="3.6" stroke-linecap="round"/>
<path d="M600.1,514.3 L603.5,511.8 L609.5,516.0 L613.7,510.3 L619.5,528.4 Z" fill="#000" stroke="#000" stroke-width="0.8" stroke-linejoin="round"/>
<text transform="matrix(0.9550,-0.2967,0.7219,0.6920,416.80,685.20)" font-size="37.34" font-weight="normal" font-style="normal" textLength="18.5" lengthAdjust="spacingAndGlyphs" stroke="#000" stroke-width="1.00" stroke-linejoin="round">LA</text>
<text transform="matrix(0.9566,-0.2913,0.7219,0.6920,441.50,677.60)" font-size="37.34" font-weight="normal" font-style="normal" textLength="66.6" lengthAdjust="spacingAndGlyphs" stroke="#000" stroke-width="1.00" stroke-linejoin="round">ROBINE</text>
<path d="M408.0,635.5 L425.2,630.0 L442.2,643.7 L425.2,649.8 Z" fill="#000" stroke="#000" stroke-width="1" />
<path d="M100.5,174.0 L121.6,136.0 L154.0,125.3 L159.3,129.6 L140.0,166.0 L106.7,178.0 Z" fill="#fff" stroke="#000" stroke-width="1.8" stroke-linejoin="round"/>
<path d="M126.0,140.2 L121.6,136.0" fill="none" stroke="#000" stroke-width="1.8" />
<path d="M126.0,140.2 L159.3,129.6" fill="none" stroke="#000" stroke-width="1.8" />
<path d="M126.0,140.2 L106.7,178.0" fill="none" stroke="#000" stroke-width="1.8" />
<path d="M429.6,126.1 L433.9,124.1 L478.9,135.5 L498.0,169.7 L494.3,173.5 L449.6,160.3 Z" fill="#fff" stroke="#000" stroke-width="1.8" stroke-linejoin="round"/>
<path d="M475.2,138.4 L429.6,126.1" fill="none" stroke="#000" stroke-width="1.8" />
<path d="M475.2,138.4 L478.9,135.5" fill="none" stroke="#000" stroke-width="1.8" />
<path d="M475.2,138.4 L494.3,173.5" fill="none" stroke="#000" stroke-width="1.8" />
<path d="M697.4,429.3 L719.5,409.6 L726.4,411.2 L736.8,432.9 L714.5,454.0 L709.6,454.0 Z" fill="#fff" stroke="#000" stroke-width="1.8" stroke-linejoin="round"/>
<path d="M702.7,430.3 L697.4,429.3" fill="none" stroke="#000" stroke-width="1.8" />
<path d="M702.7,430.3 L726.4,411.2" fill="none" stroke="#000" stroke-width="1.8" />
<path d="M702.7,430.3 L714.5,454.0" fill="none" stroke="#000" stroke-width="1.8" />
<path d="M699.7,506.3 L705.3,504.0 L733.3,520.0 L748.0,538.9 L743.5,542.8 L715.0,527.0 Z" fill="#fff" stroke="#000" stroke-width="1.8" stroke-linejoin="round"/>
<path d="M718.5,525.0 L705.3,504.0" fill="none" stroke="#000" stroke-width="1.8" />
<path d="M718.5,525.0 L748.0,538.9" fill="none" stroke="#000" stroke-width="1.8" />
<path d="M718.5,525.0 L715.0,527.0" fill="none" stroke="#000" stroke-width="1.8" />
<path d="M315.3,592.3 L358.2,581.4 L362.5,583.4 L369.4,620.0 L329.1,630.4 L323.6,626.8 Z" fill="#fff" stroke="#000" stroke-width="1.8" stroke-linejoin="round"/>
<path d="M320.7,594.3 L315.3,592.3" fill="none" stroke="#000" stroke-width="1.8" />
<path d="M320.7,594.3 L362.5,583.4" fill="none" stroke="#000" stroke-width="1.8" />
<path d="M320.7,594.3 L329.1,630.4" fill="none" stroke="#000" stroke-width="1.8" />
<path d="M252.0,500.0 L278.0,494.5 L307.5,528.5 L286.0,534.0 Z" fill="#fff" stroke="#000" stroke-width="1.8" stroke-linejoin="round"/>
<path d="M279.7,497.3 L258.8,501.9 L288.3,532.8" fill="none" stroke="#000" stroke-width="1.6" />
<text transform="matrix(1.0000,0.0000,0.0000,1.0000,165.10,124.40)" font-size="17.60" font-weight="bold" font-style="normal" textLength="45.6" lengthAdjust="spacingAndGlyphs">N 120°</text>
<text transform="matrix(1.0000,0.0000,0.0000,1.0000,407.70,117.00)" font-size="17.88" font-weight="bold" font-style="normal" textLength="32.5" lengthAdjust="spacingAndGlyphs">N30°</text>
<text transform="matrix(1.0000,0.0000,0.0000,1.0000,727.00,406.00)" font-size="19.27" font-weight="bold" font-style="normal" textLength="32.3" lengthAdjust="spacingAndGlyphs">N90°</text>
<text transform="matrix(1.0000,0.0000,0.0000,1.0000,696.80,498.80)" font-size="19.83" font-weight="bold" font-style="normal" textLength="32.2" lengthAdjust="spacingAndGlyphs">N40°</text>
<text transform="matrix(1.0000,0.0000,0.0000,1.0000,372.70,586.00)" font-size="18.58" font-weight="bold" font-style="normal" textLength="39.0" lengthAdjust="spacingAndGlyphs">N110°</text>
<text transform="matrix(1.0000,0.0000,0.0000,1.0000,235.80,491.30)" font-size="19.55" font-weight="bold" font-style="normal" textLength="44.8" lengthAdjust="spacingAndGlyphs">N 120°</text>
<text transform="matrix(1.0000,0.0000,0.0000,1.0000,14.70,351.60)" font-size="19.83" font-weight="bold" font-style="normal" textLength="26.7" lengthAdjust="spacingAndGlyphs">Lias</text>
<text transform="matrix(1.0000,0.0000,0.0000,1.0000,318.00,805.00)" font-size="19.83" font-weight="bold" font-style="normal" textLength="28.7" lengthAdjust="spacingAndGlyphs">Lias</text>
<text transform="matrix(1.0000,0.0000,0.0000,1.0000,840.00,642.00)" font-size="19.83" font-weight="bold" font-style="normal" textLength="26.0" lengthAdjust="spacingAndGlyphs">Lias</text>
<text transform="matrix(0.8000,0.0000,0.0000,1.0000,705.40,807.40)" font-size="22.22" font-weight="bold" font-style="normal" textLength="150.3" lengthAdjust="spacing">faille du Bès</text>
<rect x="737.2" y="199.2" width="135" height="73.6" fill="#fff" stroke="#000" stroke-width="1.8"/>
<text transform="matrix(1.0000,0.0000,0.0000,1.0000,773.70,229.70)" font-size="32.78" font-weight="bold" font-style="normal" textLength="52.9" lengthAdjust="spacingAndGlyphs">lobe</text>
<text transform="matrix(1.0000,0.0000,0.0000,1.0000,749.80,263.00)" font-size="33.20" font-weight="bold" font-style="normal" textLength="110.4" lengthAdjust="spacingAndGlyphs">principal</text>
<rect x="70.2" y="665.3" width="157" height="73.6" fill="#fff" stroke="#000" stroke-width="1.8"/>
<text transform="matrix(1.0000,0.0000,0.0000,1.0000,93.60,695.50)" font-size="32.51" font-weight="bold" font-style="normal" textLength="52.3" lengthAdjust="spacingAndGlyphs">lobe</text>
<text transform="matrix(1.0000,0.0000,0.0000,1.0000,166.60,695.50)" font-size="32.51" font-weight="bold" font-style="normal" textLength="29.6" lengthAdjust="spacingAndGlyphs">de</text>
<text transform="matrix(1.0000,0.0000,0.0000,1.0000,85.70,731.60)" font-size="32.51" font-weight="bold" font-style="normal" textLength="124.7" lengthAdjust="spacingAndGlyphs">La Robine</text>
<path d="M7.9,447.4 L54.0,447.4 L27.6,461.6 Z" fill="#000" stroke="#000" stroke-width="1" />
<path d="M38.0,454.6 L222.4,507.0" fill="none" stroke="#000" stroke-width="2.2" />
<path d="M168.4,447.9 L76.3,517.6" fill="none" stroke="#000" stroke-width="2.2" />
<ellipse cx="127.3" cy="480.8" rx="45.5" ry="18" transform="rotate(10 127.3 480.8)" fill="none" stroke="#000" stroke-width="2"/>
<text transform="matrix(1.0000,0.0000,0.0000,1.0000,12.50,436.00)" font-size="24.58" font-weight="normal" font-style="italic" textLength="18.0" lengthAdjust="spacingAndGlyphs" stroke="#000" stroke-width="0.50" stroke-linejoin="round">N</text>
<text transform="matrix(1.0000,0.0000,0.0000,1.0000,167.50,439.50)" font-size="23.04" font-weight="normal" font-style="italic" textLength="16.0" lengthAdjust="spacingAndGlyphs" stroke="#000" stroke-width="0.50" stroke-linejoin="round">E</text>
<text transform="matrix(1.0000,0.0000,0.0000,1.0000,49.00,540.00)" font-size="25.14" font-weight="normal" font-style="italic" textLength="21.0" lengthAdjust="spacingAndGlyphs" stroke="#000" stroke-width="0.50" stroke-linejoin="round">W</text>
<path d="M652.0,573.0 L658.0,662.0 L745.0,759.6" fill="none" stroke="#000" stroke-width="3.6" stroke-dasharray="26 6"/>
<path d="M652.8,572.8 L739.6,664.0 L746.7,761.4" fill="none" stroke="#000" stroke-width="3.6" stroke-dasharray="27 5.8"/>
<path d="M661.6,571.9 L746.7,662.3 L753.7,762.3" fill="none" stroke="#000" stroke-width="3.6" stroke-dasharray="27 5.8"/>
<path d="M700.5,729.5 L749.9,776.6 L749.9,786.2 L722.9,760.1 L713.9,766 Z M708.8,743 L720.2,753 L716.6,757.4 Z" fill="#000" fill-rule="evenodd" stroke="#000" stroke-width="0.8" stroke-linejoin="miter"/>
<path d="M757.8,741.5 L791.3,773.7 L791.3,782.0 L757.8,750.3 Z" fill="#000" stroke="#000" stroke-width="0.5" />
<path d="M774.6,757.2 L780.8,751.2 L790.8,773.2 Z" fill="#fff" stroke="#000" stroke-width="2.0" stroke-linejoin="miter"/>
</svg>
</body></html>
